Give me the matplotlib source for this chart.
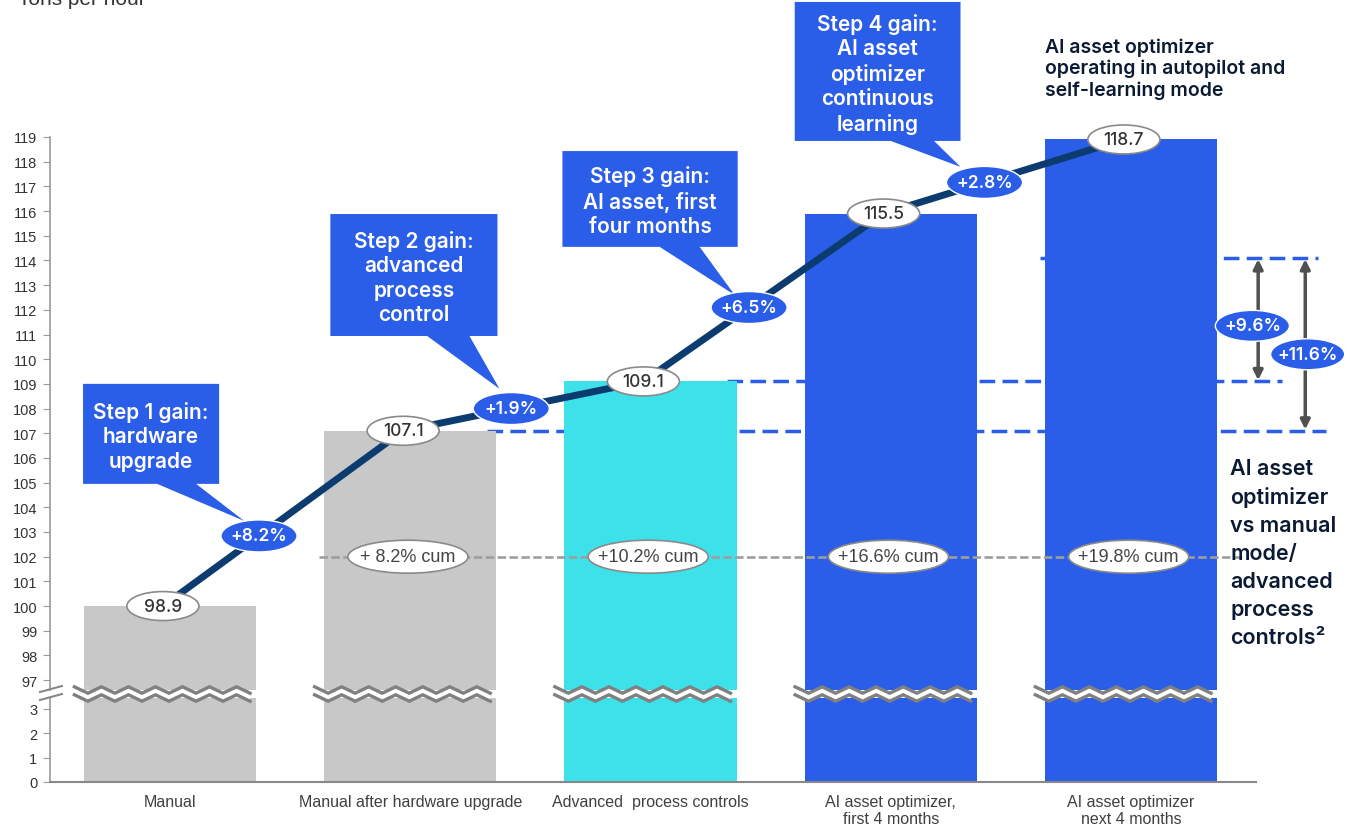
import matplotlib
matplotlib.use('Agg')
import matplotlib.pyplot as plt
import numpy as np
from matplotlib.patches import Ellipse, Polygon
from matplotlib.lines import Line2D
from matplotlib.transforms import blended_transform_factory

# ---- data ----
categories = ['Manual', 'Manual after hardware upgrade', 'Advanced  process controls',
              'AI asset optimizer,\nfirst 4 months', 'AI asset optimizer\nnext 4 months']
bar_values = [100.0, 107.1, 109.1, 115.9, 118.9]
value_labels = ['98.9', '107.1', '109.1', '115.5', '118.7']
step_gains = ['+8.2%', '+1.9%', '+6.5%', '+2.8%']
cum_gains = ['+ 8.2% cum', '+10.2% cum', '+16.6% cum', '+19.8% cum']
cum_level = 102.0
ref_levels = [114.1, 109.1, 107.1]
ai_gains = ['+9.6%', '+11.6%']
step_texts = ['Step 1 gain:\nhardware\nupgrade',
              'Step 2 gain:\nadvanced\nprocess\ncontrol',
              'Step 3 gain:\nAI asset, first\nfour months',
              'Step 4 gain:\nAI asset\noptimizer\ncontinuous\nlearning']
upper_ticks = list(range(97, 120))
lower_ticks = [0, 1, 2, 3]

GRAY = '#c8c8c8'
CYAN = '#3ce1ea'
BLUE = '#2a5de8'
NAVY = '#0b3b6f'
INK = '#0a1a33'
bar_colors = [GRAY, GRAY, CYAN, BLUE, BLUE]

TITLE_FONT = ['Inter', 'DejaVu Sans']
NARROW = ['Liberation Sans Narrow', 'Liberation Sans', 'DejaVu Sans']
plt.rcParams['font.family'] = ['Liberation Sans', 'DejaVu Sans']

W, H = 1358, 829
fig = plt.figure(figsize=(W / 100, H / 100), dpi=100)

left, width = 50 / W, (1256 - 50) / W
ax = fig.add_axes([left, 138 / H, width, (691 - 138) / H])
axb = fig.add_axes([left, 46 / H, width, (783 - 699) / H])

x = np.arange(len(categories))
bw = 0.717

for a in (ax, axb):
    a.bar(x, bar_values, width=bw, color=bar_colors, zorder=2)
    a.set_xlim(-0.5, 4.52)
    for s in ('top', 'right'):
        a.spines[s].set_visible(False)
    a.spines['left'].set_color('#999999')
    a.spines['left'].set_linewidth(1.2)
    a.tick_params(axis='y', direction='out', length=5, color='#999999',
                  labelsize=10.5, labelcolor='#333333', pad=4)

ax.set_ylim(96.6, 119)
ax.set_yticks(upper_ticks)
ax.spines['bottom'].set_visible(False)
ax.set_xticks([])

axb.set_ylim(0, 3.44)
axb.set_yticks(lower_ticks)
axb.spines['bottom'].set_color('#888888')
axb.spines['bottom'].set_linewidth(1.5)
axb.set_xticks(x)
axb.set_xticklabels(categories, fontsize=11.5, color='#404040', family=NARROW,
                    linespacing=1.1)
axb.tick_params(axis='x', length=0, pad=9)

# main trend line
lx = x - 0.03
ax.plot(lx, bar_values, color=NAVY, lw=5, zorder=4, solid_capstyle='butt')


def px_w(p):
    return p / 240.0


def px_h(p):
    return p / 24.7


# value ellipses on the line
for xi, yi, lab in zip(lx, bar_values, value_labels):
    ax.add_patch(Ellipse((xi, yi), px_w(72), px_h(29), fc='white', ec='#8a8a8a',
                         lw=1.2, zorder=6, clip_on=False))
    ax.text(xi, yi, lab, ha='center', va='center', fontsize=12.5, color='#333333',
            family=TITLE_FONT, fontweight='medium', zorder=7, clip_on=False)

# step gain ellipses along segments
t_pos = [0.40, 0.45, 0.44, 0.42]
for i, (lab, t) in enumerate(zip(step_gains, t_pos)):
    gx = lx[i] + t * (lx[i + 1] - lx[i])
    gy = bar_values[i] + t * (bar_values[i + 1] - bar_values[i])
    ax.add_patch(Ellipse((gx, gy), px_w(76), px_h(32), fc=BLUE, ec='white',
                         lw=1.0, zorder=6))
    ax.text(gx, gy, lab, ha='center', va='center', fontsize=12.5, color='white',
            family=TITLE_FONT, fontweight='semibold', zorder=7)

# callouts: (x0, x1, y_bottom, y_top, base0, base1, tip)
callouts = [
    (-0.3625, 0.204, 104.95, 109.0, -0.054, 0.108, (0.308, 103.45)),
    (0.667, 1.3625, 110.94, 115.88, 1.07, 1.246, (1.371, 108.8)),
    (1.633, 2.3625, 114.55, 118.43, 2.0375, 2.204, (2.35, 112.6)),
    (2.6, 3.29, 118.84, 124.47, 3.0, 3.18, (3.29, 117.79)),
]
for (x0, x1, y0, y1, b0, b1, tip), txt in zip(callouts, step_texts):
    poly = [(x0, y1), (x1, y1), (x1, y0), (b1, y0), tip, (b0, y0), (x0, y0)]
    ax.add_patch(Polygon(poly, closed=True, fc=BLUE, ec='none', zorder=5,
                         clip_on=False))
    ax.text((x0 + x1) / 2, (y0 + y1) / 2 - 0.08, txt, ha='center', va='center',
            color='white', fontsize=15, fontweight='semibold', family=TITLE_FONT,
            linespacing=1.27, zorder=6, clip_on=False)

# cumulative gain line
ax.plot([0.62, 4.475], [cum_level, cum_level], color='#9e9e9e', lw=1.9,
        dashes=(3.2, 1.3), zorder=3)
for xi, lab in zip(x[1:], cum_gains):
    ax.add_patch(Ellipse((xi - 0.01, cum_level), px_w(120), px_h(33), fc='white',
                         ec='#8a8a8a', lw=1.2, zorder=6))
    ax.text(xi - 0.01, cum_level, lab, ha='center', va='center', fontsize=13,
            color='#444444', family=NARROW, zorder=7)

# reference dashed lines (behind bars)
ref_spans = [(3.62, 4.78), (2.32, 4.63), (1.317, 4.81)]
for lvl, (xa, xb) in zip(ref_levels, ref_spans):
    ax.plot([xa, xb], [lvl, lvl], color=BLUE, lw=2.5, dashes=(4.5, 2.1),
            zorder=1.5, clip_on=False)

# double arrows
arrow_x = [4.529, 4.725]
arrow_lo = [ref_levels[1], ref_levels[2]]
label_y = [111.35, 110.2]
label_x = [4.505, 4.735]
for axx, lo, lab, lyy, lxx in zip(arrow_x, arrow_lo, ai_gains, label_y, label_x):
    ax.annotate('', xy=(axx, ref_levels[0] - 0.05), xytext=(axx, lo + 0.05),
                arrowprops=dict(arrowstyle='<|-|>', color='#505050', lw=2.5,
                                mutation_scale=14, shrinkA=0, shrinkB=0),
                annotation_clip=False, zorder=4)
    ax.add_patch(Ellipse((lxx, lyy), px_w(74), px_h(31), fc=BLUE, ec='white',
                         lw=1.0, zorder=6, clip_on=False))
    ax.text(lxx, lyy, lab, ha='center', va='center', fontsize=12.5, color='white',
            family=TITLE_FONT, fontweight='semibold', zorder=7, clip_on=False)

# side texts
ax.text(3.64, 123.05, 'AI asset optimizer\noperating in autopilot and\nself-learning mode',
        ha='left', va='top', fontsize=14, fontweight='semibold', color=INK,
        family=TITLE_FONT, linespacing=1.24, clip_on=False)
ax.text(4.4125, 106.0,
        'AI asset\noptimizer\nvs manual\nmode/\nadvanced\nprocess\ncontrols\u00b2',
        ha='left', va='top', fontsize=15.5, fontweight='semibold', color=INK,
        family=TITLE_FONT, linespacing=1.5, clip_on=False)

# y-axis title (cut at top edge as in the source)
fig.text(18 / W, 1 - 5 / H, 'Tons per hour', fontsize=15, color='#333333',
         va='baseline', ha='left')

# zigzag break marks across bars
trans = blended_transform_factory(ax.transData, fig.transFigure)
y_hi, y_lo = 1 - 691 / H, 1 - 699 / H
amp = 3.2 / H
half = 0.1125 / 2
for xi in x:
    xs = np.arange(xi - bw / 2 - 0.04, xi + bw / 2 + 0.03, half)
    zz = np.where(np.arange(len(xs)) % 2 == 0, amp, -amp)
    band = list(zip(xs, y_hi + zz)) + list(zip(xs[::-1], (y_lo + zz)[::-1]))
    fig.add_artist(Polygon(band, closed=True, transform=trans, fc='white',
                           ec='none', zorder=3))
    for yb in (y_hi, y_lo):
        fig.add_artist(Line2D(xs, yb + zz, transform=trans, color='#808080',
                              lw=2.4, zorder=4, solid_joinstyle='miter'))

# break mark on y-axis spine
for py in (690, 698):
    fig.add_artist(Line2D([40 / W, 62 / W], [1 - (py + 3) / H, 1 - (py - 3) / H],
                          transform=fig.transFigure, color='#888888', lw=1.5,
                          zorder=4))

fig.savefig('out.png', dpi=100)
